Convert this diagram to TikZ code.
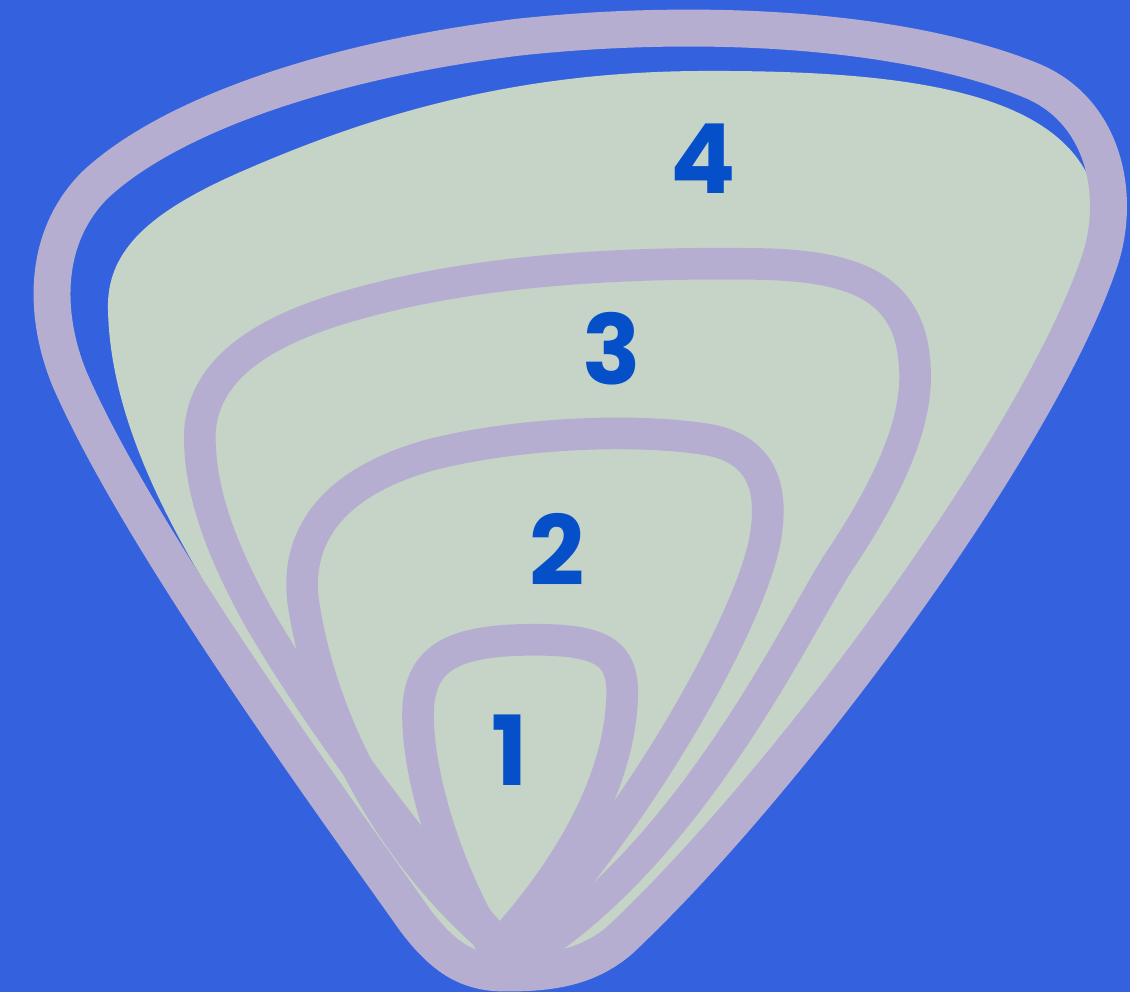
\documentclass[tikz,border=0pt]{standalone}
\usepackage{fontspec}
\usepackage{xcolor}
\usepackage{tikz}
\newfontfamily\numfont{Poppins}
\definecolor{backblue}{RGB}{52, 98, 222}
\definecolor{bandlilac}{RGB}{181, 174, 208}
\definecolor{zonegreen}{RGB}{197, 212, 199}
\definecolor{digitblue}{RGB}{5, 80, 200}

\begin{document}
\begin{tikzpicture}[
  x=0.01cm, y=-0.01cm,
  outerband/.style={draw=bandlilac, line width=10.5pt, line join=round},
  innerband/.style={draw=bandlilac, line width=9pt, line join=round},
  zone/.style={fill=zonegreen},
  digit/.style={text=digitblue, inner sep=0pt, font=\numfont\bfseries\fontsize{27.5}{30}\selectfont}
]
\useasboundingbox (0,0) rectangle (1130,992);
\fill[backblue] (0,0) rectangle (1130,992);

% Zone 4: green field inside the outer band
\fill[zone] (505,965) .. controls (470,965) and (445,950) .. (420,915)
  .. controls (340,800) and (260,680) .. (200,575)
  .. controls (150,490) and (110,400) .. (108,310)
  .. controls (106,250) and (150,210) .. (252,167)
  .. controls (380,112) and (520,72) .. (700,71)
  .. controls (900,70) and (1050,90) .. (1090,180)
  .. controls (1100,210) and (1105,240) .. (1100,260)
  .. controls (1040,440) and (790,780) .. (620,940)
  .. controls (585,970) and (545,965) .. (505,965) -- cycle;

% Outer band
\draw[outerband] (505,973) .. controls (470,973) and (445,960) .. (415,920)
  .. controls (330,800) and (140,540) .. (70,380)
  .. controls (45,320) and (40,240) .. (95,185)
  .. controls (170,115) and (330,60) .. (520,37)
  .. controls (700,18) and (900,28) .. (1030,80)
  .. controls (1105,110) and (1121,196) .. (1100,260)
  .. controls (1040,440) and (790,780) .. (620,940)
  .. controls (585,970) and (545,973) .. (505,973) -- cycle;

% Band 3
\draw[innerband] (515,962) .. controls (440,880) and (330,740) .. (260,620)
  .. controls (215,540) and (198,480) .. (200,430)
  .. controls (205,370) and (260,330) .. (360,303)
  .. controls (480,270) and (620,262) .. (760,264)
  .. controls (860,266) and (912,290) .. (915,370)
  .. controls (918,430) and (880,500) .. (840,560)
  .. controls (800,620) and (690,860) .. (515,962) -- cycle;

% Band 2
\draw[innerband] (510,955) .. controls (390,860) and (320,720) .. (303,600)
  .. controls (295,530) and (340,480) .. (430,455)
  .. controls (520,432) and (640,428) .. (710,440)
  .. controls (770,452) and (772,500) .. (765,540)
  .. controls (750,620) and (640,820) .. (510,955) -- cycle;

% Band 1
\draw[innerband] (495,950) .. controls (450,880) and (418,780) .. (418,715)
  .. controls (418,660) and (450,642) .. (520,640)
  .. controls (600,638) and (625,650) .. (622,700)
  .. controls (618,790) and (560,880) .. (495,950) -- cycle;

% Zone numbers
\node[digit] (zone4) at (703,159) {4};
\node[digit] (zone3) at (612,349) {3};
\node[digit] (zone2) at (557,549) {2};
\node[digit] (zone1) at (510,750) {1};

\end{tikzpicture}
\end{document}
